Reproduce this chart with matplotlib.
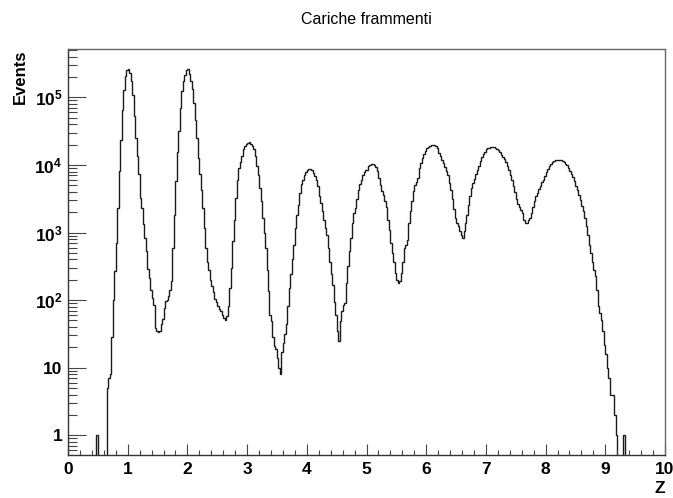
import numpy as np
import matplotlib
matplotlib.use("Agg")
import matplotlib.pyplot as plt
from matplotlib.ticker import LogLocator, MultipleLocator, FixedLocator, NullFormatter

# --- fonts (Helvetica-like, ROOT style) ---
plt.rcParams["font.family"] = ["Liberation Sans", "DejaVu Sans"]
plt.rcParams["mathtext.fontset"] = "custom"
plt.rcParams["mathtext.bf"] = "Liberation Sans:bold"
plt.rcParams["mathtext.rm"] = "Liberation Sans:bold"
plt.rcParams["mathtext.default"] = "bf"

# --- data: fragment charge histogram, 400 bins of 0.025, Z from 0 to 10 ---
z_min, z_max = 0.0, 10.0
counts = [
    # Z 0 - 0.5
    0, 0, 0, 0, 0, 0, 0, 0, 0, 0, 0, 0, 0, 0, 0, 0, 0, 0, 0, 1,
    # Z 0.5 - 1
    0, 0, 0, 0, 0, 0, 5, 7, 8, 28, 100, 270, 700, 2300, 8100, 23500,
    66000, 130000, 205000, 257000,
    # Z 1 - 1.5
    263000, 229000, 173000, 110000, 53000, 25000, 13500, 7300, 3250, 2300,
    1320, 830, 525, 285, 215, 142, 107, 85, 39, 35,
    # Z 1.5 - 2
    34, 35, 44, 52, 76, 98, 100, 115, 142, 190, 590, 1820, 5750, 15800,
    31600, 69000, 123000, 173000, 218000, 257000,
    # Z 2 - 2.5
    263000, 222000, 173000, 134000, 83000, 46500, 25000, 12600, 7300, 4300,
    2300, 1170, 590, 370, 280, 200, 160, 132, 105, 93,
    # Z 2.5 - 3
    83, 74, 68, 60, 55, 50, 58, 81, 150, 300, 740, 1550, 3250, 6000, 8900,
    11200, 13500, 17000, 19000, 20400,
    # Z 3 - 3.5
    21400, 21500, 20400, 19000, 17000, 13500, 9500, 7200, 4600, 2900,
    1620, 980, 590, 280, 135, 60, 49, 28, 21, 19,
    # Z 3.5 - 4
    14, 10, 8, 17, 23, 31, 44, 81, 150, 240, 400, 660, 1170, 1820, 2570,
    3800, 5250, 6000, 7100, 7900,
    # Z 4 - 4.5
    8500, 8700, 8600, 8400, 7600, 6900, 6000, 4800, 3450, 2750,
    2050, 1550, 1170, 930, 590, 370, 240, 170, 95, 60,
    # Z 4.5 - 5
    35, 25, 49, 68, 85, 91, 180, 315, 525, 830, 1380, 1950, 2300, 3100,
    4300, 5250, 6000, 7200, 7900, 8300,
    # Z 5 - 5.5
    8500, 9500, 10000, 10200, 10200, 9900, 9200, 8100, 6500, 5100,
    4100, 3650, 2900, 2350, 1550, 1100, 700, 500, 370, 250,
    # Z 5.5 - 6
    200, 178, 190, 250, 370, 590, 660, 780, 1380, 2050, 2900, 4100, 5100,
    5600, 6500, 8900, 10700, 12600, 14500, 16200,
    # Z 6 - 6.5
    17800, 18600, 19200, 19600, 20000, 19600, 19000, 17800, 15100, 13800,
    12000, 10700, 9200, 8100, 7100, 5400, 4200, 3100, 2200, 1620,
    # Z 6.5 - 7
    1380, 1230, 1070, 930, 830, 1050, 1380, 1820, 2570, 3450, 4500, 5400,
    6300, 7400, 8500, 9800, 11500, 12900, 14500, 15800,
    # Z 7 - 7.5
    17000, 17600, 18100, 18300, 18300, 18300, 18100, 17500, 16700, 15600,
    14200, 13200, 12300, 11000, 9500, 8300, 7100, 5900, 4800, 4000,
    # Z 7.5 - 8
    3150, 2630, 2350, 2150, 1940, 1550, 1380, 1380, 1550, 1620, 1940, 2350,
    2950, 3450, 3800, 4400, 4900, 5600, 6000, 6800,
    # Z 8 - 8.5
    7900, 8800, 9700, 10400, 11000, 11400, 11700, 12000, 12000, 12000,
    11700, 11400, 11000, 10400, 9900, 8900, 8100, 7400, 6600, 5750,
    # Z 8.5 - 9
    4800, 4200, 3550, 3050, 2450, 2050, 1620, 1230, 930, 660, 500, 370,
    280, 225, 142, 81, 65, 50, 35, 22,
    # Z 9 - 9.5
    16, 10, 7, 4, 4, 4, 2, 1, 0, 0, 0, 0, 1, 0, 0, 0, 0, 0, 0, 0,
    # Z 9.5 - 10
    0, 0, 0, 0, 0, 0, 0, 0, 0, 0, 0, 0, 0, 0, 0, 0, 0, 0, 0, 0,
]
title = "Cariche frammenti"
x_label = "Z"
y_label = "Events"
y_range = (0.51, 5.2e5)

counts = np.array(counts, dtype=float)
edges = np.linspace(z_min, z_max, len(counts) + 1)
# empty bins drop below the log axis (clipped), like ROOT
draw_vals = np.where(counts > 0, counts, 1e-3)

# --- figure ---
fig = plt.figure(figsize=(6.73, 4.98), dpi=100)
ax = fig.add_axes([68 / 673, 43 / 498, 597 / 673, 406 / 498])

ax.stairs(draw_vals, edges, color="#1a1a1a", linewidth=1.0, baseline=None)

ax.set_yscale("log")
ax.set_xlim(z_min, z_max)
ax.set_ylim(*y_range)

# ticks
ax.xaxis.set_major_locator(MultipleLocator(1))
ax.xaxis.set_minor_locator(MultipleLocator(0.2))
ax.yaxis.set_major_locator(FixedLocator([1, 10, 1e2, 1e3, 1e4, 1e5]))
ax.yaxis.set_minor_locator(LogLocator(base=10, subs=np.arange(2, 10)))
ax.yaxis.set_minor_formatter(NullFormatter())
ax.set_yticklabels(["1", "10", r"$10^{2}$", r"$10^{3}$", r"$10^{4}$", r"$10^{5}$"])

ax.tick_params(axis="both", which="both", direction="in", top=False, right=False,
               width=0.8, color="#444444")
ax.tick_params(axis="x", which="major", length=7.7, pad=5, labelsize=12.5)
ax.tick_params(axis="x", which="minor", length=3.9)
ax.tick_params(axis="y", which="major", length=13, pad=4, labelsize=12.5)
ax.tick_params(axis="y", which="minor", length=6.8)
for lab in ax.get_xticklabels() + ax.get_yticklabels():
    lab.set_fontweight("bold")

for side, sp in ax.spines.items():
    sp.set_linewidth(1.0)
    sp.set_color("#333333" if side in ("left", "bottom") else "#666666")

# titles (ROOT layout)
fig.text(366.5 / 673, 1 - 19 / 498, title, ha="center", va="center", fontsize=11.5)
fig.text(20 / 673, 1 - 49 / 498, y_label, rotation=90, ha="center", va="top",
         fontsize=12, fontweight="bold")
fig.text(665 / 673, 0.004, x_label, ha="right", va="bottom", fontsize=12.5,
         fontweight="bold")

fig.savefig("out.png", dpi=100)
